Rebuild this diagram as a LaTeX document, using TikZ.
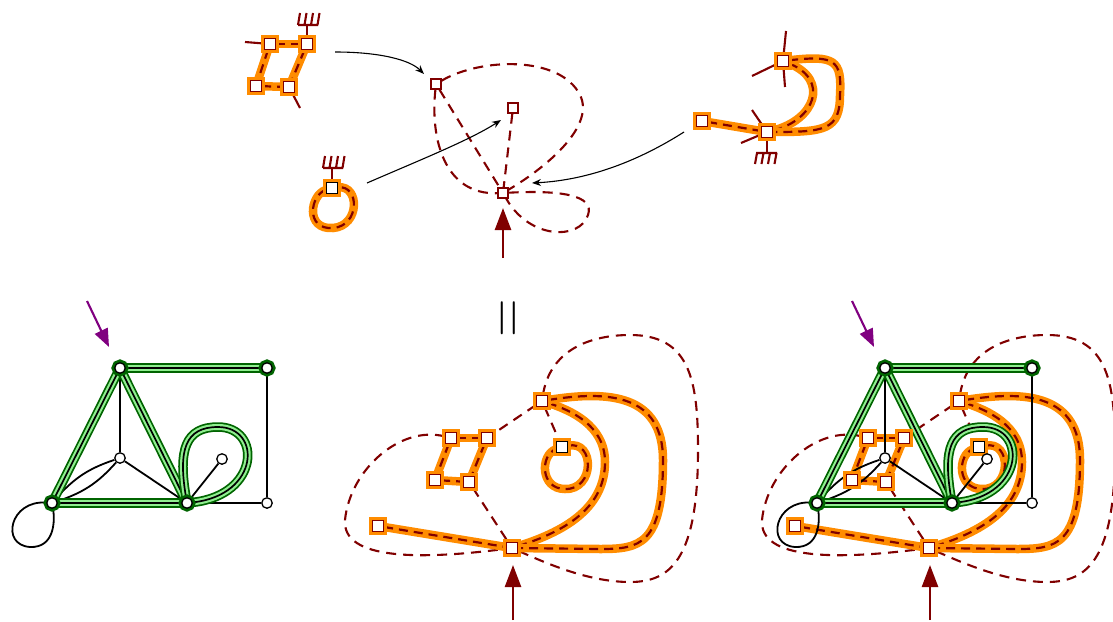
\documentclass[tikz,border=0pt]{standalone}
\usetikzlibrary{arrows.meta}
\pgfdeclarelayer{lone}
\pgfdeclarelayer{ltwo}
\pgfsetlayers{lone,ltwo,main}
\definecolor{dred}{HTML}{800000}
\definecolor{orng}{HTML}{FF8C00}
\definecolor{dgreen}{HTML}{006400}
\definecolor{lgreen}{HTML}{90EE90}
\definecolor{purp}{HTML}{800080}
\tikzset{
  oedge/.style={preaction={draw=orng, line width=8.5pt, solid}, draw=dred, line width=2.2pt, dash pattern=on 9pt off 6pt},
  dedge/.style={draw=dred, line width=2.1pt, dash pattern=on 10pt off 7pt},
  hedge/.style={draw=dred, line width=2.1pt},
  gedge/.style={preaction={draw=dgreen, line width=9.5pt}, preaction={draw=lgreen, line width=6pt}, draw=black, line width=1.7pt},
  bedge/.style={draw=black, line width=1.8pt},
  osq/.style={rectangle, inner sep=0pt, minimum size=11pt, fill=white, draw=dred, line width=1.3pt, preaction={draw=orng, line width=6.5pt}},
  oksq/.style={osq, draw=black},
  ssq/.style={rectangle, inner sep=0pt, minimum size=10pt, fill=white, draw=dred, line width=1.4pt},
  wv/.style={circle, inner sep=0pt, minimum size=10.5pt, fill=white, draw=black, line width=1.3pt},
  gv/.style={wv, preaction={draw=dgreen, line width=6.5pt}},
  redarrow/.style={draw=dred, line width=2.5pt, -{Triangle[length=22pt,width=16pt]}},
  purparrow/.style={draw=purp, line width=2.1pt, -{Triangle[length=18pt,width=14pt]}},
  thinarrow/.style={draw=black, line width=1.1pt, -{Stealth[length=9pt,width=7pt]}},
  rakeup/.pic={\draw[hedge] (-9,0) -- (11,0) (-9,0) -- (-7,-12) (-2.5,0) -- (-0.5,-12) (4,0) -- (6,-12) (10.5,0) -- (12.5,-12);},
  rakedown/.pic={\draw[hedge] (-11,0) -- (10,0) (-10,0) -- (-12,11) (-3.5,0) -- (-5.5,11) (3,0) -- (1,11) (9.5,0) -- (7.5,11);}
}
\newcommand\MidFig[2]{%
\begin{scope}[xshift=#2pt]
  \node[osq] (#1p1) at (451,438) {};
  \node[osq] (#1p2) at (487,438) {};
  \node[osq] (#1p3) at (435,480) {};
  \node[osq] (#1p4) at (469,482) {};
  \node[osq] (#1q) at (542,401) {};
  \node[oksq] (#1r) at (562,447) {};
  \node[osq] (#1s) at (378,526) {};
  \node[osq] (#1t) at (512,548) {};
  \coordinate (#1a0) at (513,620);
  \coordinate (#1a1) at (513,565);
  \begin{pgfonlayer}{lone}
    \draw[dedge] (#1q) .. controls (550,350) and (590,335) .. (630,335)
       .. controls (690,335) and (698,380) .. (698,450)
       .. controls (698,560) and (670,582) .. (630,582)
       .. controls (590,582) and (550,565) .. (#1t);
    \draw[dedge] (#1p1) .. controls (400,425) and (350,470) .. (345,520)
       .. controls (342,560) and (420,560) .. (#1t);
    \draw[dedge] (#1q) -- (#1p2);
    \draw[dedge] (#1q) -- (#1r);
    \draw[dedge] (#1p4) -- (#1t);
    \draw[oedge] (#1p1) -- (#1p2);
    \draw[oedge] (#1p1) -- (#1p3);
    \draw[oedge] (#1p2) -- (#1p4);
    \draw[oedge] (#1p3) -- (#1p4);
    \draw[oedge] (#1s) -- (#1t);
    \draw[oedge] (#1t) .. controls (570,530) and (605,505) .. (605,462)
       .. controls (605,425) and (570,410) .. (#1q);
    \draw[oedge] (#1q) .. controls (610,390) and (663,395) .. (663,460)
       .. controls (663,545) and (640,549) .. (600,549) -- (#1t);
    \draw[oedge] (#1r) .. controls (595,440) and (595,490) .. (565,489)
       .. controls (540,489) and (540,455) .. (#1r);
  \end{pgfonlayer}
  \draw[redarrow] (#1a0) -- (#1a1);
\end{scope}}
\newcommand\GraphFig[2]{%
\begin{scope}[xshift=#2pt]
  \node[gv] (#1a) at (120,368) {};
  \node[gv] (#1b) at (267,368) {};
  \node[wv] (#1c) at (120,458) {};
  \node[gv] (#1d) at (52,503) {};
  \node[gv] (#1e) at (187,503) {};
  \node[wv] (#1f) at (267,503) {};
  \node[wv] (#1g) at (222,459) {};
  \coordinate (#1u0) at (87,301);
  \coordinate (#1u1) at (109,347);
  \begin{pgfonlayer}{ltwo}
    \draw[bedge] (#1a) -- (#1c);
    \draw[bedge] (#1c) -- (#1e);
    \draw[bedge] (#1e) -- (#1g);
    \draw[bedge] (#1e) -- (#1f);
    \draw[bedge] (#1b) -- (#1f);
    \draw[bedge] (#1d) to[bend left=15] (#1c);
    \draw[bedge] (#1d) to[bend right=15] (#1c);
    \draw[bedge] (#1d) .. controls (10,500) and (0,545) .. (30,547)
       .. controls (55,548) and (55,520) .. (#1d);
    \draw[gedge] (#1a) -- (#1b);
    \draw[gedge] (#1a) -- (#1d);
    \draw[gedge] (#1a) -- (#1e);
    \draw[gedge] (#1d) -- (#1e);
    \draw[gedge] (#1e) .. controls (178,450) and (185,427) .. (218,427)
       .. controls (262,427) and (260,495) .. (#1e);
  \end{pgfonlayer}
  \draw[purparrow] (#1u0) -- (#1u1);
\end{scope}}
\begin{document}
\begin{tikzpicture}[x=1pt,y=-1pt]
\useasboundingbox (0,0) rectangle (1113,621);
% ---------- top left: quadrilateral ----------
\node[osq] (v1) at (270,44) {};
\node[osq] (v2) at (307,44) {};
\node[osq] (v3) at (256,86) {};
\node[osq] (v4) at (289,87) {};
\coordinate (v1h) at (245,42);
\coordinate (v4h) at (300,108);
\coordinate (v2h) at (307,25);
\begin{pgfonlayer}{lone}
  \draw[oedge] (v1) -- (v2);
  \draw[oedge] (v1) -- (v3);
  \draw[oedge] (v3) -- (v4);
  \draw[oedge] (v2) -- (v4);
  \draw[hedge] (v1) -- (v1h);
  \draw[hedge] (v4) -- (v4h);
  \draw[hedge] (v2) -- (v2h);
\end{pgfonlayer}
\pic at (v2h) {rakeup};
% ---------- top: small loop ----------
\node[oksq] (lp) at (332,188) {};
\coordinate (lph) at (332,168);
\begin{pgfonlayer}{lone}
  \draw[oedge] (lp) .. controls (310,195) and (305,230) .. (333,228)
     .. controls (360,226) and (360,185) .. (lp);
  \draw[hedge] (lp) -- (lph);
\end{pgfonlayer}
\pic at (lph) {rakeup};
% ---------- top middle: dashed graph ----------
\node[ssq] (m1) at (436,84) {};
\node[ssq] (m2) at (513,108) {};
\node[ssq] (m3) at (503,193) {};
\coordinate (ma0) at (503,258);
\coordinate (ma1) at (503,208);
\begin{pgfonlayer}{lone}
  \draw[dedge] (m1) .. controls (480,58) and (560,55) .. (580,95)
     .. controls (595,125) and (550,165) .. (m3);
  \draw[dedge] (m1) .. controls (430,140) and (445,195) .. (m3);
  \draw[dedge] (m1) -- (m3);
  \draw[dedge] (m2) -- (m3);
  \draw[dedge] (m3) .. controls (560,190) and (595,195) .. (588,215)
     .. controls (580,240) and (530,240) .. (m3);
\end{pgfonlayer}
\draw[redarrow] (ma0) -- (ma1);
% ---------- top right ----------
\node[osq] (w1) at (702,121) {};
\node[osq] (w2) at (767,132) {};
\node[osq] (w3) at (783,61) {};
\coordinate (w3a) at (786,31);
\coordinate (w3b) at (785,87);
\coordinate (w3c) at (752,76);
\coordinate (w2a) at (752,110);
\coordinate (w2b) at (741,143);
\coordinate (w2c) at (767,153);
\begin{pgfonlayer}{lone}
  \draw[oedge] (w1) -- (w2);
  \draw[oedge] (w3) .. controls (830,80) and (815,120) .. (w2);
  \draw[oedge] (w3) .. controls (835,55) and (842,60) .. (840,95)
     .. controls (840,130) and (825,132) .. (w2);
  \draw[hedge] (w3) -- (w3a);
  \draw[hedge] (w3) -- (w3b);
  \draw[hedge] (w3) -- (w3c);
  \draw[hedge] (w2) -- (w2a);
  \draw[hedge] (w2) -- (w2b);
  \draw[hedge] (w2) -- (w2c);
\end{pgfonlayer}
\pic at (w2c) {rakedown};
% ---------- thin arrows ----------
\coordinate (k1s) at (335,52);
\coordinate (k1e) at (424,74);
\coordinate (k2s) at (367,183);
\coordinate (k2e) at (501,120);
\coordinate (k3s) at (684,132);
\coordinate (k3e) at (532,183);
\draw[thinarrow] (k1s) .. controls (380,52) and (410,60) .. (k1e);
\draw[thinarrow] (k2s) .. controls (420,160) and (470,140) .. (k2e);
\draw[thinarrow] (k3s) .. controls (640,160) and (590,180) .. (k3e);
% ---------- equals sign ----------
\node (eq) at (508,318) {\fontsize{33}{33}\selectfont\bfseries |\kern1.5pt|};
% ---------- bottom ----------
\GraphFig{gl}{0}
\MidFig{mm}{0}
\MidFig{rm}{417}
\GraphFig{rg}{765}
\end{tikzpicture}
\end{document}
